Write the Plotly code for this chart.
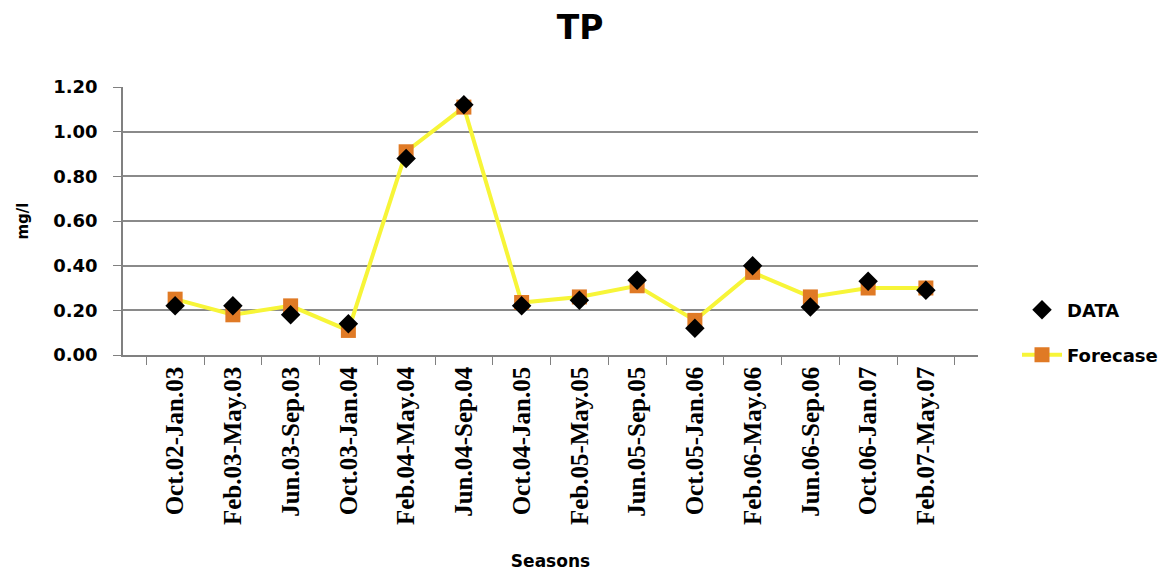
import plotly.graph_objects as go

seasons = ["Oct.02-Jan.03", "Feb.03-May.03", "Jun.03-Sep.03", "Oct.03-Jan.04",
           "Feb.04-May.04", "Jun.04-Sep.04", "Oct.04-Jan.05", "Feb.05-May.05",
           "Jun.05-Sep.05", "Oct.05-Jan.06", "Feb.06-May.06", "Jun.06-Sep.06",
           "Oct.06-Jan.07", "Feb.07-May.07"]
data_vals = [0.22, 0.22, 0.18, 0.14, 0.88, 1.12, 0.22, 0.245, 0.335, 0.12, 0.40, 0.215, 0.33, 0.29]
forecast_vals = [0.25, 0.18, 0.22, 0.11, 0.91, 1.11, 0.235, 0.26, 0.31, 0.155, 0.37, 0.26, 0.30, 0.30]

OFF = 8  # page body margin offset

fig = go.Figure()
fig.add_trace(go.Scatter(
    x=seasons, y=forecast_vals, name="<b>Forecase</b>", mode="lines+markers",
    line=dict(color="#F7F538", width=4),
    marker=dict(symbol="square", size=15, color="#E07A25"),
    legend="legend2",
))
fig.add_trace(go.Scatter(
    x=seasons, y=data_vals, name="<b>DATA</b>", mode="markers",
    marker=dict(symbol="diamond", size=15, color="black"),
    legend="legend",
))

fig.update_layout(
    width=1174, height=574,
    paper_bgcolor="white", plot_bgcolor="white",
    margin=dict(l=123 - OFF, r=196 + OFF, t=87 - OFF, b=219 + OFF, autoexpand=False),
    title=dict(text="<b>TP</b>", x=(580 - OFF) / 1174, xanchor="center",
               y=1 - (27 - OFF) / 574, yanchor="middle",
               font=dict(family="DejaVu Sans", size=33, color="black")),
    legend=dict(xref="container", yref="container", x=1009 / 1174,
                y=1 - (310 - OFF) / 574,
                xanchor="left", yanchor="middle",
                font=dict(family="DejaVu Sans", size=18, color="black"),
                bgcolor="rgba(0,0,0,0)", itemwidth=40),
    legend2=dict(xref="container", yref="container", x=1009 / 1174,
                 y=1 - (355 - OFF) / 574,
                 xanchor="left", yanchor="middle",
                 font=dict(family="DejaVu Sans", size=18, color="black"),
                 bgcolor="rgba(0,0,0,0)", itemwidth=40),
    showlegend=True,
)

fig.update_xaxes(
    type="category", tickangle=-90, tickson="boundaries",
    ticks="outside", ticklen=8, tickcolor="#808080",
    showline=True, linecolor="#808080", linewidth=1.5,
    showgrid=False, automargin=False,
    tickfont=dict(family="Liberation Serif", size=25, color="black", weight="bold"),
    title=dict(text="<b>Seasons</b>", standoff=31,
               font=dict(family="DejaVu Sans", size=17, color="black")),
)
fig.update_yaxes(
    range=[0, 1.2], dtick=0.2, tickformat=".2f",
    ticks="outside", ticklen=8, tickcolor="#808080",
    showline=True, linecolor="#808080", linewidth=1.5,
    showgrid=True, gridcolor="#8a8a8a", gridwidth=1.5,
    zeroline=False, automargin=False,
    tickfont=dict(family="DejaVu Sans", size=18, color="black", weight="bold"),
    ticklabelstandoff=12,
    title=dict(text="<b>mg/l</b>", standoff=21,
               font=dict(family="DejaVu Sans", size=15, color="black")),
)

fig.write_html("out.html")
